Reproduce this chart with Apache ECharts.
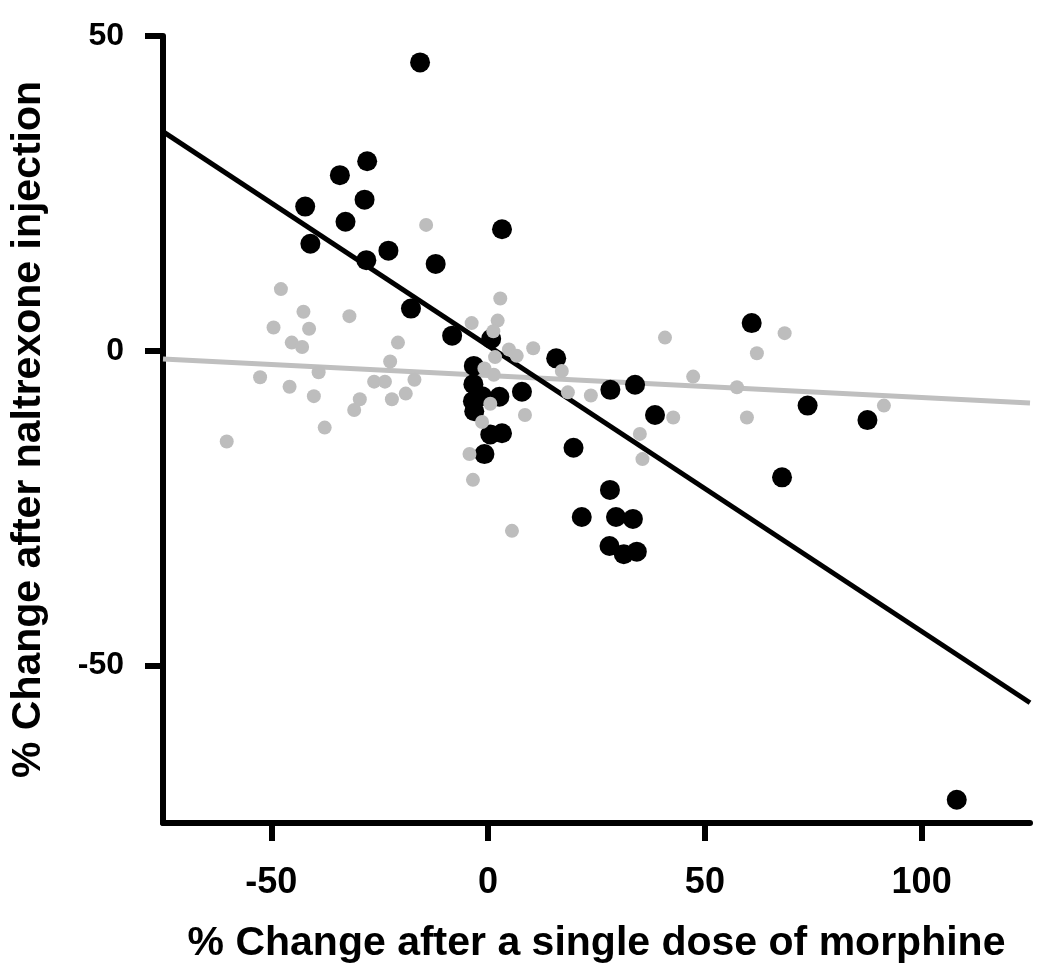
<!DOCTYPE html>
<html>
<head>
<meta charset="utf-8">
<script src="https://cdn.jsdelivr.net/npm/echarts@6/dist/echarts.min.js"></script>
<style>
html,body{margin:0;padding:0;background:#fff;overflow:hidden;}
#chart{width:1050px;height:973px;}
</style>
</head>
<body>
<div id="chart"></div>
<script>
// Black dots
const blackPoints = [
  [-15.7,45.8],[-27.9,30.1],[-34.2,27.9],[-28.5,24.0],[-42.2,22.9],[-32.9,20.5],
  [-41.0,17.0],[-23.0,15.9],[-28.1,14.4],[-12.1,13.8],[-17.8,6.7],[-8.3,2.4],
  [3.2,19.3],[0.7,1.9],[-3.3,-2.4],[-3.4,-5.3],[-3.5,-8.0],[-1.4,-7.2],[2.6,-7.3],
  [-3.2,-9.6],[7.8,-6.5],[15.7,-1.2],[28.2,-6.2],[33.9,-5.4],[38.5,-10.2],
  [0.5,-13.3],[3.2,-13.1],[-0.85,-16.4],[19.7,-15.4],[28.1,-22.1],[21.6,-26.4],
  [29.5,-26.4],[33.4,-26.7],[28.0,-31.0],[31.3,-32.3],[34.3,-31.9],
  [60.8,4.4],[73.7,-8.7],[87.5,-11.0],[67.8,-20.1],[108.1,-71.3]
];
// Gray dots
const grayPoints = [
  [-47.8,9.8],[-42.6,6.2],[-49.5,3.7],[-41.3,3.5],[-32.0,5.5],[-45.3,1.3],[-42.9,0.6],
  [-20.8,1.3],[-22.6,-1.7],[-39.1,-3.4],[-52.6,-4.2],[-45.8,-5.7],[-26.3,-4.9],[-23.8,-4.9],
  [-17.0,-4.6],[-40.2,-7.2],[-29.6,-7.7],[-30.9,-9.4],[-22.2,-7.7],[-19.0,-6.8],[-37.7,-12.2],
  [-60.3,-14.4],[-14.3,20.0],
  [-3.8,4.4],[2.8,8.3],[2.2,4.8],[1.2,3.1],[4.8,0.2],[6.6,-0.8],[1.6,-1.0],[10.4,0.4],
  [-0.85,-2.8],[1.3,-3.8],[0.5,-8.4],[-1.4,-11.3],[-4.3,-16.4],[-3.5,-20.5],[5.5,-28.6],[8.5,-10.2],
  [17.0,-3.2],[18.4,-6.6],[23.7,-7.1],[40.8,2.1],[47.3,-4.1],[42.7,-10.6],[35.0,-13.2],[35.6,-17.2],
  [68.4,2.8],[62.0,-0.4],[57.4,-5.8],[59.7,-10.6],[91.3,-8.7]
];
// Regression line endpoints (data units)
const blackFit = [[-75,34.8],[125,-55.9]];
const grayFit = [[-75,-1.3],[125,-8.3]];
// Axis ticks
const xTicks = [-50,0,50,100];
const yTicks = [-50,0,50];
const xRange = [-75,125];
const yRange = [-75,50];
const xTitle = '% Change after a single dose of morphine';
const yTitle = '% Change after naltrexone injection';

const el = document.getElementById('chart');
const chart = echarts.init(el);
const font = '"Liberation Sans",Arial,Helvetica,sans-serif';
chart.setOption({
  animation:false,
  backgroundColor:'#fff',
  grid:{left:162,right:20,top:36,bottom:150},
  xAxis:{
    type:'value',min:xRange[0],max:xRange[1],
    splitLine:{show:false},
    axisLine:{onZero:false,lineStyle:{color:'#000',width:6}},
    axisTick:{customValues:xTicks,length:18,lineStyle:{color:'#000',width:6}},
    axisLabel:{customValues:xTicks,margin:42,color:'#000',fontSize:36,fontWeight:'bold',fontFamily:font},
    name:xTitle,nameLocation:'middle',nameGap:100,
    nameTextStyle:{color:'#000',fontSize:41,fontWeight:'bold',fontFamily:font}
  },
  yAxis:{
    type:'value',min:yRange[0],max:yRange[1],
    splitLine:{show:false},
    axisLine:{onZero:false,lineStyle:{color:'#000',width:6}},
    axisTick:{customValues:yTicks,length:18,lineStyle:{color:'#000',width:6}},
    axisLabel:{customValues:yTicks,margin:39,color:'#000',fontSize:32,fontWeight:'bold',fontFamily:font},
    name:yTitle,nameLocation:'middle',nameGap:114,
    nameTextStyle:{color:'#000',fontSize:41,fontWeight:'bold',fontFamily:font}
  },
  series:[
    {type:'line',data:grayFit,symbol:'none',lineStyle:{color:'#bfbfbf',width:5},z:1,silent:true},
    {type:'line',data:blackFit,symbol:'none',lineStyle:{color:'#000',width:5},z:2,silent:true},
    {type:'scatter',data:blackPoints,symbolSize:20,itemStyle:{color:'#000',opacity:1},z:3},
    {type:'scatter',data:grayPoints,symbolSize:14,itemStyle:{color:'#bdbdbd',opacity:1},z:4}
  ]
});
</script>
</body>
</html>
